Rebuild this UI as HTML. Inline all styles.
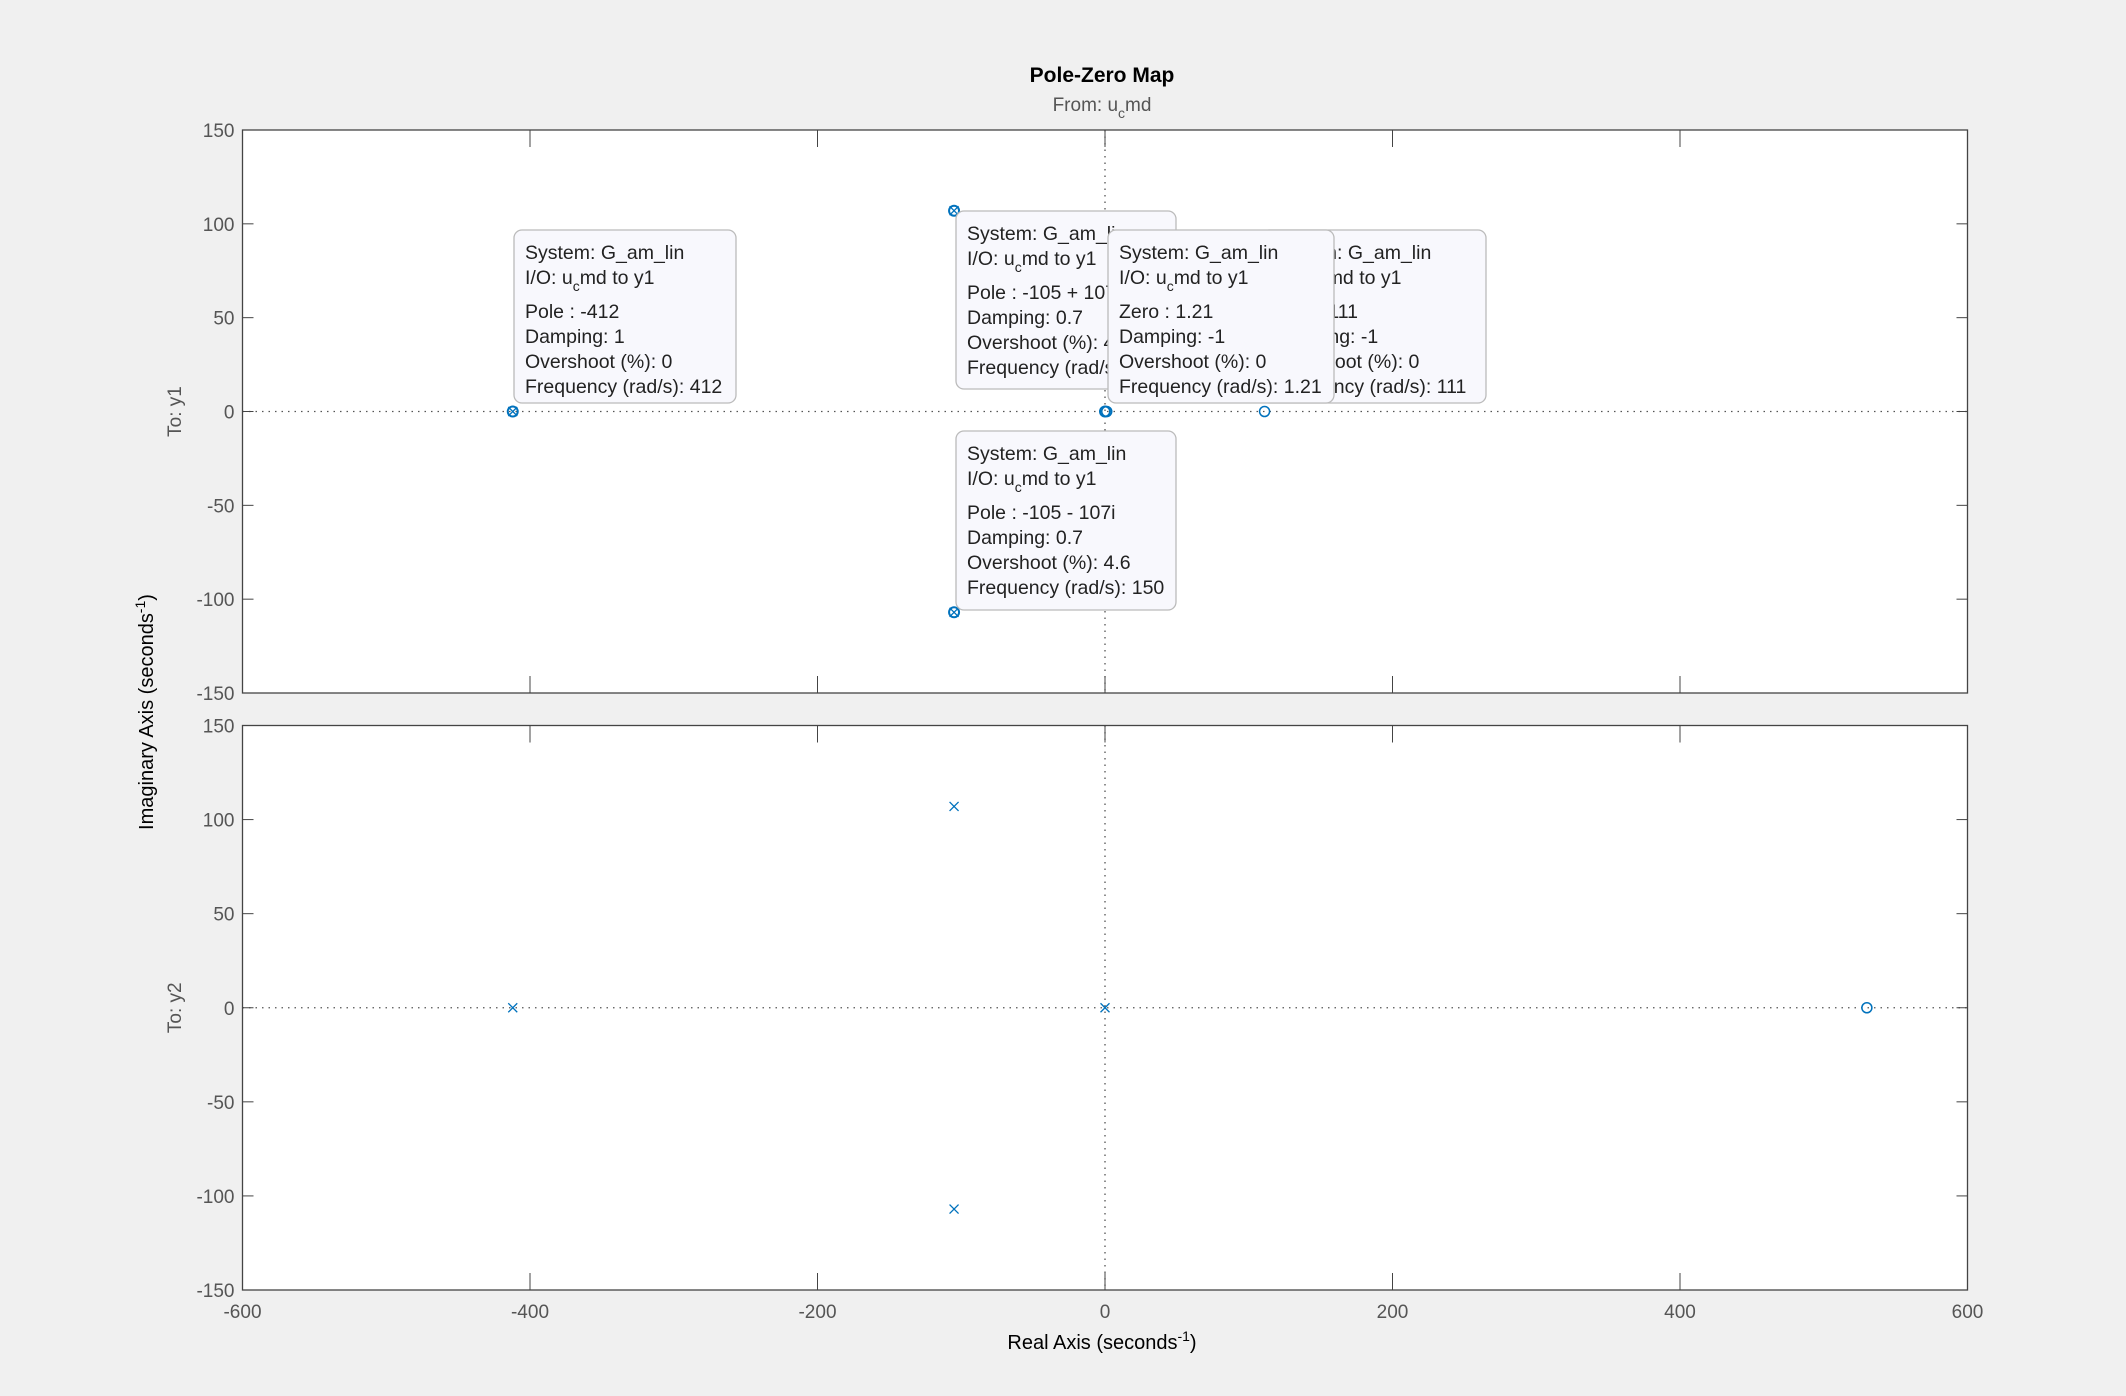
<!DOCTYPE html>
<html><head><meta charset="utf-8"><style>
html,body{margin:0;padding:0;background:#f0f0f0;}
svg{display:block;font-family:"Liberation Sans",sans-serif;}
</style></head><body>
<svg id="chart" width="2126" height="1396" viewBox="0 0 2126 1396">
<rect width="2126" height="1396" fill="#f0f0f0"/>
<text x="1102" y="82" text-anchor="middle" font-size="21" font-weight="bold" fill="#000">Pole-Zero Map</text>
<text x="1102" y="111" text-anchor="middle" font-size="19" fill="#555">From: u<tspan dy="7" font-size="14">c</tspan><tspan dy="-7">md</tspan></text>
<text transform="translate(153,712) rotate(-90)" text-anchor="middle" font-size="20" fill="#000">Imaginary Axis (seconds<tspan dy="-8" font-size="14">-1</tspan><tspan dy="8">)</tspan></text>
<text x="1102" y="1349" text-anchor="middle" font-size="20" fill="#000">Real Axis (seconds<tspan dy="-8" font-size="14">-1</tspan><tspan dy="8">)</tspan></text>
<g id="p1"></g>
<g id="p2"></g>
<g id="tips"></g>
</svg>
<script>
const xTicks=[-600,-400,-200,0,200,400,600];
const yTicks=[-150,-100,-50,0,50,100,150];
const y1PolesRe=[-412,-105,-105];
const y1PolesIm=[0,107,-107];
const y1ZerosRe=[1.21,111];
const y1ZerosIm=[0,0];
const y1OverlapRe=[-412,-105,-105,0];
const y1OverlapIm=[0,107,-107,0];
const y2PolesRe=[-412,-105,-105,0];
const y2PolesIm=[0,107,-107,0];
const y2ZerosRe=[530];
const y2ZerosIm=[0];
const NS='http://www.w3.org/2000/svg';
const L=242.5,R=1967.5;
function sx(v){return L+(v+600)/1200*(R-L);}
function mk(tag,attrs,parent){const e=document.createElementNS(NS,tag);for(const k in attrs)e.setAttribute(k,attrs[k]);parent.appendChild(e);return e;}
function panel(g,top,bot,label,showX,pr,pi,zr,zi,ovr,ovi){
  const sy=v=>bot-(v+150)/300*(bot-top);
  const bg=mk('rect',{x:L,y:top,width:R-L,height:bot-top,fill:'#fff'},g);
  
  
  const h=mk('line',{x1:L,x2:R,y1:sy(0),y2:sy(0),stroke:'#555','stroke-dasharray':'1.5,5','stroke-width':1.3},g);
  
  
  const v=mk('line',{x1:sx(0),x2:sx(0),y1:top,y2:bot,stroke:'#555','stroke-dasharray':'1.5,5','stroke-width':1.3},g);
  
  
  xTicks.forEach(t=>{
    mk('line',{x1:sx(t),x2:sx(t),y1:bot,y2:bot-17,stroke:'#444','stroke-width':1},g);
    mk('line',{x1:sx(t),x2:sx(t),y1:top,y2:top+17,stroke:'#444','stroke-width':1},g);
    if(showX){const tx=mk('text',{x:sx(t),y:bot+28,'text-anchor':'middle','font-size':19,fill:'#555'},g);tx.textContent=t;
      
      }
  });
  yTicks.forEach(t=>{
    mk('line',{x1:L,x2:L+11,y1:sy(t),y2:sy(t),stroke:'#444','stroke-width':1},g);
    mk('line',{x1:R,x2:R-11,y1:sy(t),y2:sy(t),stroke:'#444','stroke-width':1},g);
    const ty=mk('text',{x:L-8,y:sy(t)+7,'text-anchor':'end','font-size':19,fill:'#555'},g);ty.textContent=t;
    
    
  });
  const fr=mk('rect',{x:L,y:top,width:R-L,height:bot-top,fill:'none',stroke:'#444','stroke-width':1.3},g);
  
  
  const lb=mk('text',{transform:`translate(181,${sy(0)}) rotate(-90)`,'text-anchor':'middle','font-size':19,fill:'#555'},g);lb.textContent=label;
  
  
  const col='#0072bd';
  pr.forEach((r,i)=>{const x=sx(r),y=sy(pi[i]);const p=mk('path',{d:`M${x-4.5},${y-4.5}L${x+4.5},${y+4.5}M${x-4.5},${y+4.5}L${x+4.5},${y-4.5}`,stroke:col,'stroke-width':1.3,fill:'none'},g);
    
    });
  zr.forEach((r,i)=>{const c=mk('circle',{cx:sx(r),cy:sy(zi[i]),r:5,stroke:col,'stroke-width':1.5,fill:'none'},g);
    
    });
  ovr.forEach((r,i)=>{const c=mk('circle',{cx:sx(r),cy:sy(ovi[i]),r:5,stroke:col,'stroke-width':2,fill:'none'},g);
    
    });
}
panel(document.getElementById('p1'),130,693,'To: y1',false,y1PolesRe,y1PolesIm,y1ZerosRe,y1ZerosIm,y1OverlapRe,y1OverlapIm);
panel(document.getElementById('p2'),725.5,1290,'To: y2',true,y2PolesRe,y2PolesIm,y2ZerosRe,y2ZerosIm,[],[]);
const tipData=[
 [514,230,222,173,['System: G_am_lin','IO','Pole : -412','Damping: 1','Overshoot (%): 0','Frequency (rad/s): 412']],
 [956,211,220,178,['System: G_am_lin','IO','Pole : -105 + 107i','Damping: 0.7','Overshoot (%): 4.6','Frequency (rad/s): 150']],
 [1261,230,225,173,['System: G_am_lin','IO','Zero : 111','Damping: -1','Overshoot (%): 0','Frequency (rad/s): 111']],
 [1108,230,226,173,['System: G_am_lin','IO','Zero : 1.21','Damping: -1','Overshoot (%): 0','Frequency (rad/s): 1.21']],
 [956,431,220,179,['System: G_am_lin','IO','Pole : -105 - 107i','Damping: 0.7','Overshoot (%): 4.6','Frequency (rad/s): 150']]
];
const tg=document.getElementById('tips');
tipData.forEach(d=>{
  const g=mk('g',{},tg);
  
  
  mk('rect',{x:d[0],y:d[1],width:d[2],height:d[3],rx:8,fill:'#f8f8fd',stroke:'#bbb','stroke-width':1.3},g);
  const cp=mk('clipPath',{id:'c'+d[0]+'_'+d[1]},g);mk('rect',{x:d[0],y:d[1],width:d[2],height:d[3]},cp);
  const tgp=mk('g',{'clip-path':`url(#c${d[0]}_${d[1]})`},g);
  const ys=[29,54,88,113,138,163];
  d[4].forEach((s,i)=>{
    const t=mk('text',{x:d[0]+11,y:d[1]+ys[i],'font-size':19.5,fill:'#222'},tgp);
    if(s==='IO'){t.innerHTML='I/O: u<tspan dy="7" font-size="14">c</tspan><tspan dy="-7">md to y1</tspan>';}
    else t.textContent=s;
  });
});
</script>
</body></html>
